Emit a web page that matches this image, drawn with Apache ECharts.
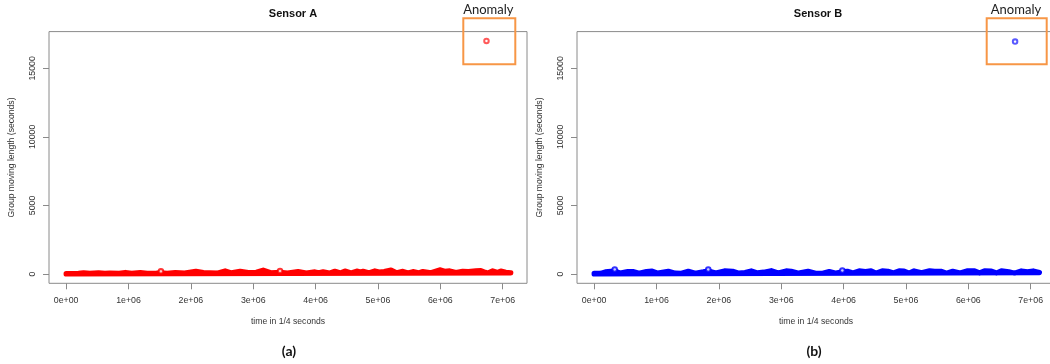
<!DOCTYPE html>
<html>
<head>
<meta charset="utf-8">
<script src="https://cdn.jsdelivr.net/npm/echarts@6/dist/echarts.min.js"></script>
<style>
html,body{margin:0;padding:0;background:#fff;}
#chart{width:1050px;height:364px;}
</style>
</head>
<body>
<div id="chart"></div>
<script>
// ---- data ----
const panelTitles = ['Sensor A', 'Sensor B'];
const panelLetters = ['(a)', '(b)'];
const xTickValues = [0, 1e6, 2e6, 3e6, 4e6, 5e6, 6e6, 7e6];
const xTickLabels = ['0e+00', '1e+06', '2e+06', '3e+06', '4e+06', '5e+06', '6e+06', '7e+06'];
const yTickValues = [0, 5000, 10000, 15000];
const yTickLabels = ['0', '5000', '10000', '15000'];

// upper envelope of the dense band (time in millions of 1/4 s, length in s)
const sensorA_time = [0.00,0.10,0.20,0.28,0.38,0.52,0.62,0.70,0.85,0.95,1.05,1.19,1.30,1.45,1.52,1.62,1.75,1.90,2.08,2.20,2.30,2.42,2.55,2.65,2.79,2.92,3.05,3.16,3.28,3.43,3.55,3.72,3.85,3.99,4.05,4.12,4.22,4.31,4.40,4.47,4.57,4.66,4.72,4.76,4.85,4.95,5.02,5.10,5.21,5.30,5.40,5.48,5.56,5.65,5.72,5.85,5.99,6.07,6.15,6.25,6.36,6.45,6.57,6.65,6.72,6.76,6.84,6.92,6.97,7.05,7.13];
const sensorA_top  = [20,20,40,90,40,90,40,60,50,110,40,100,50,60,80,50,100,60,200,100,90,60,220,80,200,100,120,280,90,120,60,180,70,150,90,150,60,200,80,210,70,210,150,190,80,220,140,170,280,90,190,70,170,80,180,90,300,200,220,100,200,180,220,250,120,60,220,110,210,120,80];
const sensorA_base = 0;
const sensorA_outliers = [[1.52, 190], [3.43, 220]];
const sensorA_anomaly = [[6.74, 17000]];

const sensorB_time = [0.00,0.10,0.18,0.27,0.33,0.42,0.54,0.62,0.72,0.84,0.93,1.02,1.19,1.30,1.40,1.51,1.62,1.75,1.83,1.95,2.09,2.22,2.32,2.42,2.52,2.62,2.72,2.84,2.95,3.08,3.16,3.28,3.43,3.55,3.65,3.77,3.88,3.98,4.06,4.15,4.25,4.35,4.44,4.52,4.62,4.71,4.80,4.89,4.97,5.05,5.13,5.25,5.38,5.46,5.56,5.65,5.75,5.87,5.99,6.10,6.18,6.26,6.37,6.45,6.53,6.65,6.74,6.85,6.95,7.04,7.14];
const sensorB_top  = [40,40,150,200,220,60,180,180,50,170,210,60,190,60,50,190,50,150,220,70,220,200,60,100,220,80,130,240,70,220,200,60,200,50,40,180,60,150,200,70,220,180,220,60,230,200,70,230,210,60,220,80,230,200,200,60,190,70,230,220,70,220,210,70,230,160,60,220,150,220,100];
const sensorB_base = 0;
const sensorB_outliers = [[0.33, 330], [1.83, 330], [3.98, 260]];
const sensorB_anomaly = [[6.75, 16950]];

const xMin = -0.275e6, xMax = 7.39e6;
const yMin = -680, yMax = 17680;

// ---- build ----
function bandPolygon(times, tops, base) {
  const d = times.map((t, i) => [t * 1e6, tops[i]]);
  d.push([times[times.length - 1] * 1e6, base]);
  d.push([times[0] * 1e6, base]);
  d.push([times[0] * 1e6, tops[0]]);
  return d;
}
function scaleT(arr) { return arr.map(p => [p[0] * 1e6, p[1]]); }

const grids = [
  {left: 49, top: 31.6, width: 478, height: 251.7},
  {left: 577, top: 31.6, width: 478, height: 251.7}
];
const colors = ['#ff0000', '#0000ff'];
const anomalyColors = ['#ff3030', '#3030ff'];

const textFont = 'Liberation Sans';
const axisGrey = '#8a8a8a';

const option = {
  animation: false,
  backgroundColor: '#ffffff',
  title: grids.map((g, i) => ({
    text: panelTitles[i],
    left: g.left + g.width / 2 - (i === 1 ? 3 : 0),
    top: 3,
    textAlign: 'center',
    textStyle: {fontFamily: textFont, fontWeight: 'bold', fontSize: 11, color: '#111'}
  })),
  grid: grids.map(g => Object.assign({show: true, borderColor: axisGrey, borderWidth: 1, backgroundColor: 'transparent', containLabel: false, outerBoundsMode: 'none'}, g)),
  xAxis: grids.map((g, i) => ({
    type: 'value', gridIndex: i, min: xMin, max: xMax, position: 'bottom',
    name: 'time in 1/4 seconds', nameLocation: 'middle', nameGap: 34,
    nameTextStyle: {fontFamily: textFont, fontSize: 8.6, color: '#333'},
    axisLine: {show: false, onZero: false},
    splitLine: {show: false},
    axisTick: {show: true, inside: false, length: 6, lineStyle: {color: axisGrey}, customValues: xTickValues},
    axisLabel: {show: true, margin: 13, fontFamily: textFont, fontSize: 8.8, color: '#333',
      customValues: xTickValues,
      formatter: v => { const k = xTickValues.indexOf(v); return k >= 0 ? xTickLabels[k] : ''; }}
  })),
  yAxis: grids.map((g, i) => ({
    type: 'value', gridIndex: i, min: yMin, max: yMax, position: 'left',
    name: 'Group moving length (seconds)', nameLocation: 'middle', nameGap: 33, nameRotate: 90,
    nameTextStyle: {fontFamily: textFont, fontSize: 8.6, color: '#333'},
    axisLine: {show: false, onZero: false},
    splitLine: {show: false},
    axisTick: {show: true, inside: false, length: 6, lineStyle: {color: axisGrey}, customValues: yTickValues},
    axisLabel: {show: true, rotate: 90, margin: 12, fontFamily: textFont, fontSize: 8.8, color: '#333',
      customValues: yTickValues,
      formatter: v => { const k = yTickValues.indexOf(v); return k >= 0 ? yTickLabels[k] : ''; }}
  })),
  series: [
    {type: 'line', xAxisIndex: 0, yAxisIndex: 0, data: bandPolygon(sensorA_time, sensorA_top, sensorA_base),
      showSymbol: false, silent: true, lineStyle: {color: colors[0], width: 5.2, join: 'round', cap: 'round'}},
    {type: 'scatter', xAxisIndex: 0, yAxisIndex: 0, data: scaleT(sensorA_outliers), symbol: 'emptyCircle', symbolSize: 4.5,
      itemStyle: {color: colors[0], borderColor: colors[0], borderWidth: 1}, silent: true, z: 5},
    {type: 'scatter', xAxisIndex: 0, yAxisIndex: 0, data: scaleT(sensorA_anomaly), symbol: 'emptyCircle', symbolSize: 4.5,
      itemStyle: {color: anomalyColors[0], borderColor: anomalyColors[0], borderWidth: 1}, silent: true, z: 5},
    {type: 'line', xAxisIndex: 1, yAxisIndex: 1, data: bandPolygon(sensorB_time, sensorB_top, sensorB_base),
      showSymbol: false, silent: true, lineStyle: {color: colors[1], width: 5.2, join: 'round', cap: 'round'}},
    {type: 'scatter', xAxisIndex: 1, yAxisIndex: 1, data: scaleT(sensorB_outliers), symbol: 'emptyCircle', symbolSize: 4.5,
      itemStyle: {color: colors[1], borderColor: colors[1], borderWidth: 1}, silent: true, z: 5},
    {type: 'scatter', xAxisIndex: 1, yAxisIndex: 1, data: scaleT(sensorB_anomaly), symbol: 'emptyCircle', symbolSize: 4.5,
      itemStyle: {color: anomalyColors[1], borderColor: anomalyColors[1], borderWidth: 1}, silent: true, z: 5}
  ],
  graphic: [
    {type: 'rect', shape: {x: 463.3, y: 18.3, width: 52, height: 46}, style: {fill: 'none', stroke: '#f79646', lineWidth: 2}, z: 100},
    {type: 'rect', shape: {x: 986.7, y: 18.3, width: 60, height: 46}, style: {fill: 'none', stroke: '#f79646', lineWidth: 2}, z: 100},
    {type: 'text', x: 488.3, y: 10, style: {text: 'Anomaly', fontFamily: 'Lato', fontSize: 13, fill: '#222', align: 'center', verticalAlign: 'middle'}, z: 100},
    {type: 'text', x: 1016, y: 10, style: {text: 'Anomaly', fontFamily: 'Lato', fontSize: 13, fill: '#222', align: 'center', verticalAlign: 'middle'}, z: 100},
    {type: 'text', x: 289, y: 351, style: {text: panelLetters[0], fontFamily: 'Lato', fontWeight: 'bold', fontSize: 14, fill: '#111', align: 'center', verticalAlign: 'middle'}, z: 100},
    {type: 'text', x: 814, y: 351, style: {text: panelLetters[1], fontFamily: 'Lato', fontWeight: 'bold', fontSize: 14, fill: '#111', align: 'center', verticalAlign: 'middle'}, z: 100}
  ]
};

const chart = echarts.init(document.getElementById('chart'), null, {renderer: 'canvas'});
chart.setOption(option);
</script>
</body>
</html>
